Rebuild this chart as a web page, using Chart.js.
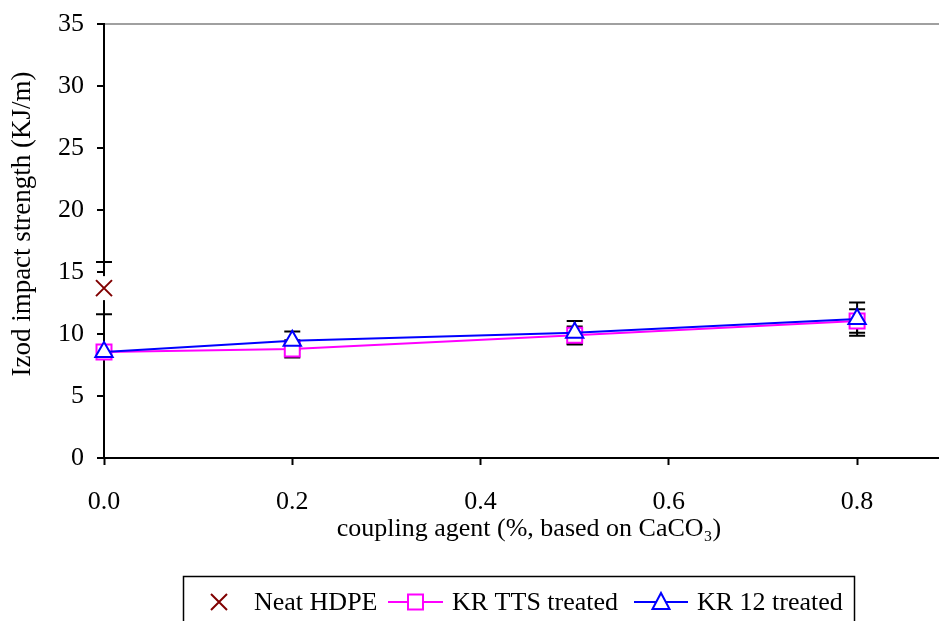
<!DOCTYPE html>
<html><head><meta charset="utf-8">
<script src="https://cdn.jsdelivr.net/npm/chart.js@4.4.1/dist/chart.umd.min.js"></script>
<style>html,body{margin:0;padding:0;background:#fff;} #wrap{width:939px;height:621px;position:relative;}</style>
</head><body><div id="wrap"><canvas id="c" width="939" height="621"></canvas></div>
<script>
// ---- data ----
const neatX = [0];
const neatValues = [13.7];
const neatErrors = [2.1];
const kxValues = [0, 0.2, 0.5, 0.8];
const ttsValues = [8.55, 8.8, 9.9, 11.05];
const ttsErrors = [0.4, 0.7, 0.7, 0.95];
const kr12Values = [8.55, 9.45, 10.1, 11.2];
const kr12Errors = [0.5, 0.75, 0.95, 1.35];
const xTickValues = [0, 0.2, 0.4, 0.6, 0.8];
const yTickValues = [0, 5, 10, 15, 20, 25, 30, 35];
const seriesNames = ['Neat HDPE', 'KR TTS treated', 'KR 12 treated'];
const xTitle = 'coupling agent (%, based on CaCO\u2083)';
const yTitle = 'Izod impact strength (KJ/m)';

const FAMILY = "'Liberation Serif', 'Times New Roman', serif";
const toPts = (xs, ys) => xs.map((x, i) => ({x: x, y: ys[i]}));

const errorBarPlugin = {
  id: 'errbars',
  beforeDatasetsDraw(chart) {
    const ctx = chart.ctx, ys = chart.scales.y;
    chart.data.datasets.forEach((ds, i) => {
      if (!ds.errors) return;
      const meta = chart.getDatasetMeta(i);
      meta.data.forEach((pt, j) => {
        const v = ds.data[j].y, e = ds.errors[j];
        const yt = ys.getPixelForValue(v + e), yb = ys.getPixelForValue(v - e);
        ctx.save();
        ctx.strokeStyle = '#000'; ctx.lineWidth = 2;
        ctx.beginPath();
        ctx.moveTo(pt.x, yt); ctx.lineTo(pt.x, yb);
        ctx.moveTo(pt.x - 8, yt); ctx.lineTo(pt.x + 8, yt);
        ctx.moveTo(pt.x - 8, yb); ctx.lineTo(pt.x + 8, yb);
        ctx.stroke();
        if (ds.markerBox) {
          ctx.fillStyle = '#fff';
          ctx.fillRect(pt.x - 9, pt.y - 12, 18, 24);
        }
        ctx.restore();
      });
    });
  }
};

const titlePlugin = {
  id: 'axisTitles',
  afterDraw(chart) {
    const ctx = chart.ctx;
    ctx.save();
    ctx.fillStyle = '#000';
    ctx.textAlign = 'center';
    ctx.textBaseline = 'middle';
    ctx.font = '26px ' + FAMILY;
    ctx.fillText(xTitle, 529, 529);
    ctx.translate(23, 224);
    ctx.rotate(-Math.PI / 2);
    ctx.font = '27px ' + FAMILY;
    ctx.fillText(yTitle, 0, 0);
    ctx.restore();
  }
};

const legendPlugin = {
  id: 'boxLegend',
  afterDraw(chart) {
    const ctx = chart.ctx;
    const ds = chart.data.datasets;
    const y = 602;
    ctx.save();
    ctx.strokeStyle = '#000'; ctx.lineWidth = 1.5;
    ctx.strokeRect(183.5, 576.5, 671, 70);
    ctx.font = '26px ' + FAMILY;
    ctx.fillStyle = '#000';
    ctx.textBaseline = 'middle';
    ctx.textAlign = 'left';
    ctx.strokeStyle = ds[0].borderColor; ctx.lineWidth = 2;
    ctx.beginPath();
    ctx.moveTo(211, y - 8); ctx.lineTo(227, y + 8);
    ctx.moveTo(227, y - 8); ctx.lineTo(211, y + 8);
    ctx.stroke();
    ctx.fillText(seriesNames[0], 254, y + 1);
    ctx.strokeStyle = ds[1].borderColor; ctx.lineWidth = 2;
    ctx.beginPath(); ctx.moveTo(388, y); ctx.lineTo(443, y); ctx.stroke();
    ctx.fillStyle = '#fff';
    ctx.fillRect(408, y - 7.5, 15, 15);
    ctx.strokeRect(408, y - 7.5, 15, 15);
    ctx.fillStyle = '#000';
    ctx.fillText(seriesNames[1], 452, y + 1);
    ctx.strokeStyle = ds[2].borderColor; ctx.lineWidth = 2;
    ctx.beginPath(); ctx.moveTo(634, y); ctx.lineTo(688, y); ctx.stroke();
    ctx.beginPath();
    ctx.moveTo(661, y - 9); ctx.lineTo(669.5, y + 7); ctx.lineTo(652.5, y + 7); ctx.closePath();
    ctx.fillStyle = '#fff'; ctx.fill(); ctx.stroke();
    ctx.fillStyle = '#000';
    ctx.fillText(seriesNames[2], 697, y + 1);
    ctx.restore();
  }
};

const tickFont = {family: FAMILY, size: 26};

new Chart(document.getElementById('c'), {
  type: 'scatter',
  data: {
    datasets: [
      {
        label: seriesNames[0], data: toPts(neatX, neatValues), errors: neatErrors, markerBox: true,
        showLine: false, pointStyle: 'crossRot', pointRadius: 11.3,
        borderColor: '#800000', pointBorderColor: '#800000', pointBorderWidth: 2,
        backgroundColor: '#800000', clip: false, order: 0
      },
      {
        label: seriesNames[1], data: toPts(kxValues, ttsValues), errors: ttsErrors,
        showLine: true, borderColor: '#FF00FF', borderWidth: 2, tension: 0,
        pointStyle: 'rect', pointRadius: 10.6, pointBackgroundColor: '#fff',
        pointBorderColor: '#FF00FF', pointBorderWidth: 2, clip: false, order: 2
      },
      {
        label: seriesNames[2], data: toPts(kxValues, kr12Values), errors: kr12Errors,
        showLine: true, borderColor: '#0000FF', borderWidth: 2, tension: 0,
        pointStyle: 'triangle', pointRadius: 10, pointBackgroundColor: '#fff',
        pointBorderColor: '#0000FF', pointBorderWidth: 2, clip: false, order: 1
      }
    ]
  },
  options: {
    responsive: false,
    devicePixelRatio: 1,
    animation: false,
    events: [],
    layout: {autoPadding: false, padding: {left: 0, right: 0, top: 24, bottom: 46}},
    plugins: {legend: {display: false}, tooltip: {enabled: false}},
    scales: {
      x: {
        type: 'linear', min: 0, max: 0.887,
        afterBuildTicks: s => { s.ticks = xTickValues.map(v => ({value: v})); },
        afterFit: s => { s.height = 117; s.paddingLeft = 0; s.paddingRight = 0; },
        ticks: {font: tickFont, color: '#000', padding: 22, maxRotation: 0, autoSkip: false,
                callback: v => Number(v).toFixed(1)},
        grid: {drawOnChartArea: false, drawTicks: true, tickLength: 7, tickColor: '#000', tickWidth: 2},
        border: {color: '#000', width: 2},
        title: {display: false, text: xTitle}
      },
      y: {
        type: 'linear', min: 0, max: 35,
        afterBuildTicks: s => { s.ticks = yTickValues.map(v => ({value: v})); },
        afterFit: s => { s.width = 104; s.paddingTop = 0; s.paddingBottom = 0; },
        ticks: {font: tickFont, color: '#000', padding: 13},
        grid: {
          color: c => (c.tick && c.tick.value === 35) ? '#a0a0a0' : 'rgba(0,0,0,0)',
          lineWidth: 2, drawTicks: true, tickLength: 7, tickColor: '#000', tickWidth: 2
        },
        border: {color: '#000', width: 2},
        title: {display: false, text: yTitle}
      }
    }
  },
  plugins: [errorBarPlugin, titlePlugin, legendPlugin]
});
</script>
</body></html>
